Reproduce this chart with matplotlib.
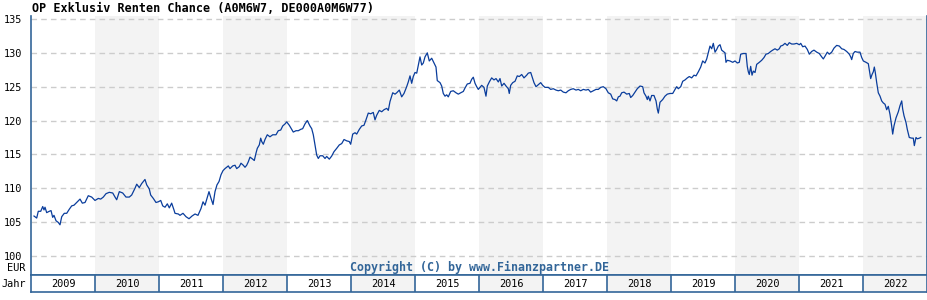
import matplotlib
matplotlib.use("Agg")
import matplotlib.pyplot as plt

# Kursverlauf (Zeit in Jahren, Kurs in EUR)
jahr = [
    2009.047, 2009.089, 2009.114, 2009.152, 2009.183, 2009.203, 2009.219, 2009.245, 2009.286, 2009.313,
    2009.339, 2009.359, 2009.391, 2009.427, 2009.453, 2009.480, 2009.520, 2009.558, 2009.598, 2009.636,
    2009.672, 2009.714, 2009.766, 2009.802, 2009.844, 2009.895, 2009.948, 2010.000, 2010.052, 2010.089,
    2010.130, 2010.172, 2010.223, 2010.277, 2010.313, 2010.339, 2010.380, 2010.433, 2010.484, 2010.536,
    2010.573, 2010.625, 2010.652, 2010.692, 2010.730, 2010.781, 2010.808, 2010.848, 2010.870, 2010.911,
    2010.953, 2010.989, 2011.027, 2011.058, 2011.094, 2011.130, 2011.161, 2011.198, 2011.234, 2011.250,
    2011.302, 2011.328, 2011.375, 2011.422, 2011.469, 2011.516, 2011.563, 2011.609, 2011.656, 2011.688,
    2011.719, 2011.750, 2011.781, 2011.813, 2011.844, 2011.875, 2011.906, 2011.938, 2011.969, 2012.000,
    2012.031, 2012.058, 2012.083, 2012.109, 2012.152, 2012.188, 2012.214, 2012.255, 2012.281, 2012.317,
    2012.344, 2012.370, 2012.395, 2012.422, 2012.464, 2012.489, 2012.516, 2012.536, 2012.567, 2012.589,
    2012.605, 2012.630, 2012.656, 2012.692, 2012.734, 2012.777, 2012.828, 2012.864, 2012.902, 2012.933,
    2012.969, 2012.995, 2013.036, 2013.073, 2013.098, 2013.141, 2013.177, 2013.214, 2013.245, 2013.281,
    2013.317, 2013.359, 2013.386, 2013.411, 2013.438, 2013.464, 2013.489, 2013.516, 2013.558, 2013.594,
    2013.620, 2013.661, 2013.698, 2013.734, 2013.777, 2013.817, 2013.855, 2013.891, 2013.933, 2013.973,
    2013.995, 2014.027, 2014.063, 2014.089, 2014.130, 2014.167, 2014.203, 2014.234, 2014.270, 2014.308,
    2014.348, 2014.375, 2014.402, 2014.442, 2014.480, 2014.516, 2014.558, 2014.583, 2014.609, 2014.652,
    2014.688, 2014.714, 2014.755, 2014.792, 2014.828, 2014.870, 2014.895, 2014.922, 2014.948, 2014.973,
    2015.000, 2015.027, 2015.052, 2015.078, 2015.105, 2015.130, 2015.156, 2015.192, 2015.223, 2015.261,
    2015.297, 2015.328, 2015.348, 2015.391, 2015.417, 2015.442, 2015.469, 2015.495, 2015.520, 2015.558,
    2015.598, 2015.641, 2015.677, 2015.714, 2015.755, 2015.781, 2015.817, 2015.859, 2015.886, 2015.911,
    2015.938, 2015.964, 2015.989, 2016.016, 2016.042, 2016.078, 2016.109, 2016.130, 2016.161, 2016.198,
    2016.234, 2016.266, 2016.302, 2016.328, 2016.355, 2016.391, 2016.422, 2016.458, 2016.473, 2016.495,
    2016.527, 2016.563, 2016.598, 2016.630, 2016.667, 2016.703, 2016.745, 2016.770, 2016.808, 2016.839,
    2016.859, 2016.891, 2016.927, 2016.964, 2016.995, 2017.031, 2017.083, 2017.120, 2017.161, 2017.203,
    2017.239, 2017.277, 2017.317, 2017.359, 2017.395, 2017.433, 2017.473, 2017.516, 2017.552, 2017.589,
    2017.630, 2017.672, 2017.708, 2017.745, 2017.786, 2017.828, 2017.864, 2017.902, 2017.942, 2017.984,
    2018.020, 2018.058, 2018.089, 2018.125, 2018.152, 2018.177, 2018.203, 2018.230, 2018.266, 2018.308,
    2018.348, 2018.370, 2018.402, 2018.438, 2018.473, 2018.516, 2018.558, 2018.578, 2018.609, 2018.630,
    2018.645, 2018.672, 2018.698, 2018.734, 2018.766, 2018.786, 2018.802, 2018.828, 2018.870, 2018.906,
    2018.942, 2018.984, 2019.027, 2019.063, 2019.089, 2019.114, 2019.152, 2019.183, 2019.219, 2019.255,
    2019.286, 2019.323, 2019.359, 2019.391, 2019.427, 2019.464, 2019.495, 2019.531, 2019.558, 2019.583,
    2019.609, 2019.636, 2019.661, 2019.688, 2019.714, 2019.739, 2019.766, 2019.792, 2019.817, 2019.844,
    2019.859, 2019.880, 2019.922, 2019.964, 2020.000, 2020.036, 2020.067, 2020.089, 2020.130, 2020.172,
    2020.192, 2020.208, 2020.223, 2020.245, 2020.266, 2020.286, 2020.313, 2020.339, 2020.380, 2020.417,
    2020.453, 2020.484, 2020.520, 2020.558, 2020.589, 2020.625, 2020.661, 2020.692, 2020.714, 2020.745,
    2020.781, 2020.817, 2020.848, 2020.886, 2020.922, 2020.964, 2021.005, 2021.027, 2021.058, 2021.094,
    2021.130, 2021.161, 2021.198, 2021.234, 2021.277, 2021.317, 2021.355, 2021.380, 2021.406, 2021.442,
    2021.473, 2021.511, 2021.547, 2021.589, 2021.630, 2021.667, 2021.703, 2021.745, 2021.786, 2021.808,
    2021.823, 2021.848, 2021.875, 2021.911, 2021.953, 2021.980, 2022.005, 2022.047, 2022.083, 2022.098,
    2022.120, 2022.141, 2022.161, 2022.177, 2022.192, 2022.214, 2022.239, 2022.266, 2022.292, 2022.317,
    2022.344, 2022.370, 2022.395, 2022.422, 2022.448, 2022.464, 2022.484, 2022.516, 2022.552, 2022.578,
    2022.605, 2022.620, 2022.641, 2022.672, 2022.692, 2022.723, 2022.761, 2022.786, 2022.802, 2022.828,
    2022.848, 2022.880, 2022.902,
]
kurs = [
    105.9, 105.6, 106.6, 106.6, 107.3, 106.8, 107.2, 106.4, 106.6, 106.7,
    105.7, 106.0, 105.2, 104.95, 104.6, 105.8, 106.3, 106.3, 106.9, 107.4,
    107.5, 107.9, 108.4, 107.8, 107.9, 108.9, 108.7, 108.2, 108.5, 108.4,
    108.7, 109.2, 109.4, 109.3, 108.7, 108.3, 109.5, 109.3, 108.7, 108.7,
    109.0, 110.0, 110.6, 110.1, 110.7, 111.3, 110.5, 109.9, 109.0, 108.5,
    107.9, 108.0, 108.2, 107.4, 107.2, 107.7, 107.1, 107.8, 106.8, 106.3,
    106.2, 106.0, 106.3, 105.8, 105.5, 105.9, 106.2, 106.0, 107.0, 108.0,
    107.5, 108.5, 109.5, 108.5, 107.6, 109.5, 110.5, 111.0, 112.0, 112.6,
    112.9, 113.1, 113.3, 112.9, 113.3, 113.4, 112.9, 113.2, 113.7, 113.4,
    113.1, 113.4, 113.9, 114.6, 114.3, 114.1, 115.2, 115.9, 116.4, 117.4,
    116.9, 116.5, 117.2, 117.9, 117.6, 117.9, 117.9, 118.5, 118.6, 119.2,
    119.5, 119.8, 119.3, 118.7, 118.3, 118.5, 118.5, 118.7, 118.8, 119.5,
    120.0, 119.2, 118.8, 117.9, 116.4, 114.9, 114.4, 114.8, 114.8, 114.4,
    114.7, 114.3, 114.75, 115.4, 115.9, 116.4, 116.6, 117.2, 117.0, 116.9,
    116.5, 118.0, 118.2, 118.0, 118.7, 119.2, 119.3, 120.1, 121.1, 121.0,
    121.2, 120.1, 120.8, 121.5, 121.3, 121.6, 121.8, 121.5, 122.8, 124.1,
    123.9, 124.1, 124.5, 123.5, 124.0, 125.0, 125.7, 126.6, 125.5, 126.5,
    127.1, 127.0, 128.2, 129.4, 128.2, 128.5, 129.4, 130.0, 128.8, 129.2,
    128.5, 127.9, 125.9, 125.6, 125.1, 124.0, 123.6, 123.8, 123.5, 124.3,
    124.4, 124.1, 123.9, 124.1, 124.3, 124.8, 125.4, 125.5, 126.1, 126.4,
    125.5, 125.0, 124.6, 124.9, 125.2, 124.9, 123.6, 125.1, 125.7, 126.3,
    126.0, 126.2, 125.7, 126.2, 125.1, 125.5, 125.1, 124.7, 124.0, 125.2,
    125.6, 125.8, 126.6, 126.5, 126.8, 126.3, 126.7, 127.0, 127.1, 126.2,
    125.6, 125.0, 125.3, 125.6, 125.2, 124.9, 124.9, 124.6, 124.7, 124.5,
    124.4, 124.5, 124.2, 124.1, 124.4, 124.6, 124.7, 124.5, 124.6, 124.4,
    124.6, 124.5, 124.6, 124.2, 124.4, 124.6, 124.6, 124.9, 125.0, 124.7,
    124.1, 123.9, 123.2, 123.1, 122.9, 123.5, 123.6, 124.1, 124.2, 123.9,
    124.0, 123.4, 123.7, 124.2, 124.7, 125.1, 125.0, 124.1, 123.6, 123.1,
    123.6, 122.9, 123.7, 123.7, 122.9, 121.7, 121.1, 122.7, 123.1, 123.6,
    123.9, 124.0, 124.0, 124.6, 125.0, 124.7, 125.0, 125.8, 126.0, 126.3,
    126.5, 126.3, 126.7, 126.6, 127.2, 127.9, 128.8, 128.5, 129.1, 130.0,
    131.0, 130.6, 131.4, 130.1, 130.5, 131.0, 131.2, 130.4, 130.2, 130.0,
    128.6, 128.9, 128.8, 128.6, 128.8, 128.5, 128.6, 129.8, 129.9, 129.9,
    128.0, 127.2, 126.8, 128.0, 126.7, 127.3, 127.1, 128.3, 128.6, 128.9,
    129.3, 129.8, 129.9, 130.2, 130.4, 130.6, 130.4, 130.6, 131.0, 131.1,
    131.4, 131.1, 131.5, 131.3, 131.3, 131.4, 131.2, 131.4, 130.9, 131.0,
    130.5, 129.8, 130.2, 130.4, 130.1, 129.9, 129.4, 129.1, 129.5, 130.1,
    129.8, 130.1, 130.7, 131.1, 131.0, 130.6, 130.5, 130.2, 129.8, 129.4,
    129.0, 129.9, 130.2, 130.1, 130.1, 129.3, 128.8, 128.6, 128.4, 127.5,
    126.2, 126.8, 127.2, 127.9, 127.1, 125.6, 124.1, 123.6, 122.9, 122.6,
    122.4, 121.6, 122.1, 120.9, 119.2, 118.0, 119.2, 120.4, 121.3, 122.2,
    122.9, 121.7, 120.7, 119.7, 118.7, 117.5, 117.4, 117.4, 116.3, 117.5,
    117.3, 117.4, 117.5,
]

jahre = list(range(2009, 2023))
y_ticks = [100, 105, 110, 115, 120, 125, 130, 135]

rahmen = "#336699"
linie = "#0a3d9c"
schatten = "#f3f3f3"
mono = "DejaVu Sans Mono"

fig = plt.figure(figsize=(9.28, 3.0), dpi=100)
ax = fig.add_axes([31 / 928, 25 / 300, 896 / 928, 259 / 300])
ax_j = fig.add_axes([31 / 928, 8 / 300, 896 / 928, 17 / 300])

# Hintergrund: jedes zweite Jahr grau
for j in jahre:
    if j % 2 == 0:
        ax.axvspan(j, j + 1, color=schatten, lw=0, zorder=0)
        ax_j.axvspan(j, j + 1, color=schatten, lw=0, zorder=0)

for t in y_ticks:
    ax.axhline(t, color="#cccccc", lw=1.0, ls=(0, (4, 3)), zorder=1)

ax.plot(jahr, kurs, color=linie, lw=0.9, zorder=3)

ax.set_xlim(2009, 2023)
ax.set_ylim(97.19, 135.44)
ax.set_xticks([])
ax.set_yticks(y_ticks)
ax.set_yticklabels([str(t) for t in y_ticks], fontfamily=mono, fontsize=7.4)
ax.tick_params(axis="y", length=0, pad=6)
ax.spines["top"].set_visible(False)
for s in ["left", "right", "bottom"]:
    ax.spines[s].set_color(rahmen)
    ax.spines[s].set_linewidth(1.2)

ax.text(0.5, 0.028, "Copyright (C) by www.Finanzpartner.DE", transform=ax.transAxes,
        ha="center", va="center", fontfamily=mono, fontweight="bold", fontsize=8.4,
        color=rahmen, zorder=4)

# Jahreszeile
ax_j.set_xlim(2009, 2023)
ax_j.set_ylim(0, 1)
ax_j.set_xticks([])
ax_j.set_yticks([])
for j in jahre[1:]:
    ax_j.axvline(j, color=rahmen, lw=1.2)
for j in jahre:
    ax_j.text(j + 0.5, 0.45, str(j), ha="center", va="center",
              fontfamily=mono, fontsize=7.4, color="black")
for s in ax_j.spines.values():
    s.set_color(rahmen)
    s.set_linewidth(1.2)

fig.text(1 / 928, 1 - 284 / 300, "Jahr", ha="left", va="center", fontfamily=mono, fontsize=7.4)
fig.text(25 / 928, 1 - 268 / 300, "EUR", ha="right", va="center", fontfamily=mono, fontsize=7.4)
fig.text(32 / 928, 1 - 8 / 300, "OP Exklusiv Renten Chance (A0M6W7, DE000A0M6W77)",
         ha="left", va="center", fontfamily=mono, fontweight="bold", fontsize=8.5)

fig.savefig("out.png", dpi=100)
